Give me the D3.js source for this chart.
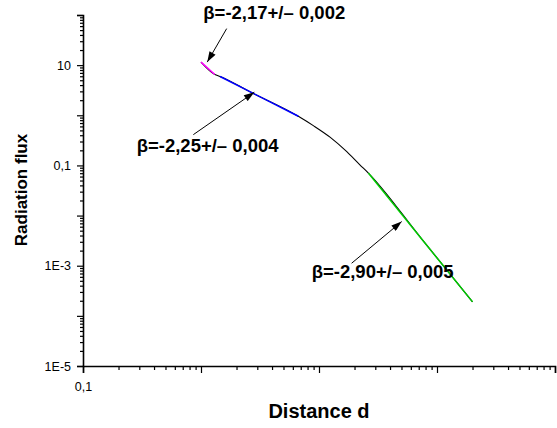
<!DOCTYPE html>
<html>
<head>
<meta charset="utf-8">
<script src="https://cdn.jsdelivr.net/npm/d3@7"></script>
<style>
  body { margin: 0; background: #fff; }
  svg { font-family: "Liberation Sans", Arial, sans-serif; }
</style>
</head>
<body>
<div id="chart"></div>
<script>
// measured curve (distance d, radiation flux)
const curveD = [1.00, 1.31, 1.45, 2.6, 6.68, 8.95, 12.4, 17.2, 22.2, 26.2, 71.8, 200];
const curveF = [11.5, 6.5, 5.94, 2.94, 0.955, 0.622, 0.366, 0.188, 0.103, 0.0705, 3.77e-3, 1.9e-4];

// fitted power-law segments
const fitNames = ["near", "mid", "far"];
const fitD = [[1.00, 1.31], [1.45, 6.68], [26.2, 200]];
const fitF = [[11.5, 6.5], [5.94, 0.955], [0.0705, 1.9e-4]];
const fitColors = ["#ff00ff", "#0000ff", "#00cc00"];

// annotation labels: text, text anchor point, arrow tail, arrow tip (data coords)
const noteText = ["β=-2,17+/– 0,002", "β=-2,25+/– 0,004", "β=-2,90+/– 0,005"];
const noteAt = [[1.046, 84], [0.285, 0.188], [8.67, 5.6e-4]];
const noteTail = [[1.65, 53.5], [0.861, 0.411], [18.9, 1.12e-3]];
const noteTip = [[1.13, 11.5], [2.83, 2.88], [50.2, 7.59e-3]];

// ticks
const xMajor = [0.1, 1, 10, 100, 1000];
const xLabelValues = [0.1];
const xLabels = ["0,1"];
const yMajor = [1e-5, 1e-4, 1e-3, 1e-2, 0.1, 1, 10, 100];
const yLabelValues = [1e-5, 1e-3, 0.1, 10];
const yLabels = ["1E-5", "1E-3", "0,1", "10"];

const W = 557, H = 428;
const margin = { top: 15, right: 2, bottom: 62, left: 83 };
const width = W - margin.left - margin.right,
      height = H - margin.top - margin.bottom;

const svg = d3.select("#chart").append("svg")
    .attr("width", W).attr("height", H);

const defs = svg.append("defs");
defs.append("marker")
    .attr("id", "arrow")
    .attr("viewBox", "0 0 12 8")
    .attr("refX", 12).attr("refY", 4)
    .attr("markerWidth", 12).attr("markerHeight", 7)
    .attr("markerUnits", "userSpaceOnUse")
    .attr("orient", "auto")
    .append("path")
    .attr("d", "M0,0 L12,4 L0,8 Z")
    .attr("fill", "#000");

const g = svg.append("g")
    .attr("transform", "translate(" + margin.left + "," + margin.top + ")");

const x = d3.scaleLog().domain([0.1, 1000]).range([0, width]);
const y = d3.scaleLog().domain([1e-5, 100]).range([height, 0]);

function minors(majors) {
    let out = [];
    for (let i = 0; i < majors.length - 1; i++) {
        for (let k = 2; k <= 9; k++) out.push(majors[i] * k);
    }
    return out;
}

// ---- AXES ----
function fmt(values, labels) {
    return d => {
        let i = values.findIndex(v => Math.abs(Math.log10(v) - Math.log10(d)) < 1e-6);
        return i >= 0 ? labels[i] : "";
    };
}

const xMinorAxis = g.append("g").attr("transform", "translate(0," + height + ")")
    .call(d3.axisBottom(x).tickValues(minors(xMajor)).tickSize(4).tickFormat(""));
const xAxis = g.append("g").attr("transform", "translate(0," + height + ")")
    .call(d3.axisBottom(x).tickValues(xMajor).tickSize(7).tickPadding(9)
        .tickFormat(fmt(xLabelValues, xLabels)));

const yMinorAxis = g.append("g")
    .call(d3.axisLeft(y).tickValues(minors(yMajor)).tickSize(3).tickFormat(""));
const yAxis = g.append("g")
    .call(d3.axisLeft(y).tickValues(yMajor).tickSize(6).tickPadding(6)
        .tickFormat(fmt(yLabelValues, yLabels)));

g.selectAll(".domain").attr("stroke-width", 1.6);
g.selectAll(".tick line").attr("stroke-width", 1.2);
g.selectAll(".tick text").style("font-size", "12.5px").attr("fill", "#000")
    .style("font-family", "'Liberation Sans', Arial, sans-serif");
xMinorAxis.select(".domain").remove();
yMinorAxis.select(".domain").remove();

// ---- CURVE ----
const pts = curveD.map((d, i) => [d, curveF[i]]);
const line = d3.line()
    .x(d => x(d[0])).y(d => y(d[1]))
    .curve(d3.curveMonotoneX);

g.append("path")
    .datum(pts)
    .attr("d", line)
    .attr("fill", "none")
    .attr("stroke", "#000")
    .attr("stroke-width", 1.1);

fitNames.forEach((name, i) => {
    g.append("path")
        .attr("class", "fit " + name)
        .datum(fitD[i].map((d, j) => [d, fitF[i][j]]))
        .attr("d", d3.line().x(d => x(d[0])).y(d => y(d[1])))
        .attr("fill", "none")
        .attr("stroke", fitColors[i])
        .attr("stroke-width", 1.5);
});

// ---- ANNOTATIONS ----
noteText.forEach((t, i) => {
    g.append("line")
        .attr("x1", x(noteTail[i][0])).attr("y1", y(noteTail[i][1]))
        .attr("x2", x(noteTip[i][0])).attr("y2", y(noteTip[i][1]))
        .attr("stroke", "#000")
        .attr("stroke-width", 1)
        .attr("marker-end", "url(#arrow)");
    g.append("text")
        .attr("x", x(noteAt[i][0])).attr("y", y(noteAt[i][1]))
        .text(t)
        .style("font-weight", "bold")
        .style("font-size", "18.5px");
});

// ---- AXIS TITLES ----
svg.append("text")
    .attr("text-anchor", "middle")
    .attr("x", margin.left + width / 2)
    .attr("y", 418)
    .text("Distance d")
    .style("font-weight", "bold")
    .style("font-size", "20px");

svg.append("text")
    .attr("text-anchor", "middle")
    .attr("transform", "translate(27," + 190 + ") rotate(-90)")
    .text("Radiation flux")
    .style("font-weight", "bold")
    .style("font-size", "17px");
</script>
</body>
</html>
